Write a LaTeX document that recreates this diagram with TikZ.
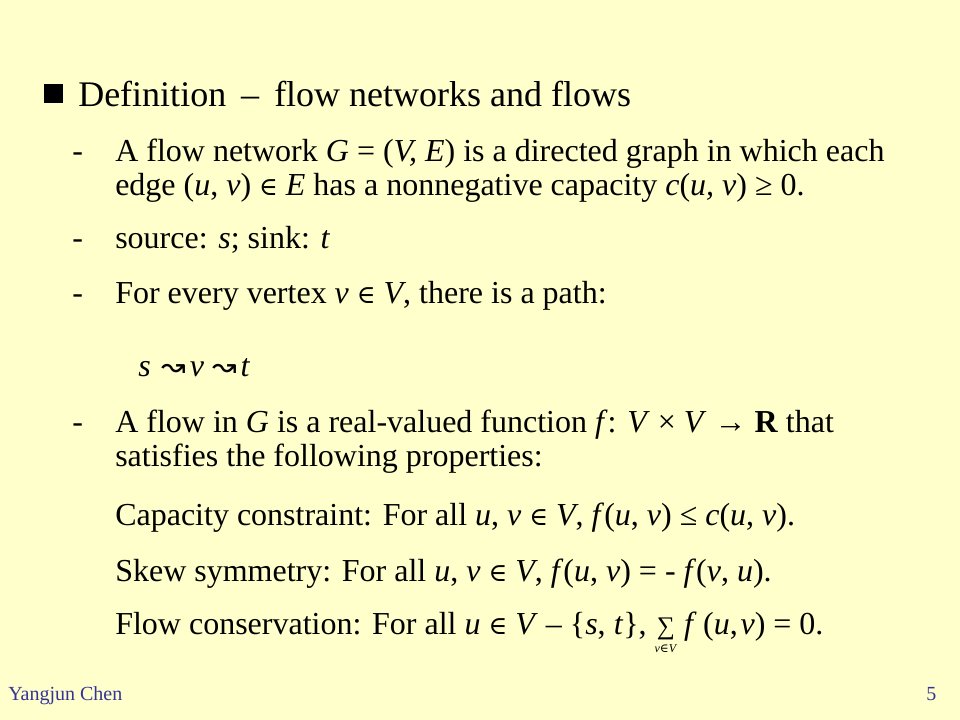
\documentclass[tikz,border=0pt]{standalone}
\usepackage{graphicx}
\usepackage{fontspec}
\setmainfont{Liberation Serif}
\newfontfamily\symf{DejaVu Serif}
\newfontfamily\symsans{DejaVu Sans}
\definecolor{bg}{HTML}{FFFFCC}
\definecolor{foot}{HTML}{333399}
\newcommand{\mi}[1]{\textit{#1}}
\newcommand{\inn}{{\symf\fontsize{19}{20}\selectfont ∈}}
\newcommand{\sq}{{\symsans\fontsize{22}{24}\selectfont ↝}}
\begin{document}
\begin{tikzpicture}[x=0.75pt,y=-0.75pt,
  body/.style={anchor=base west, inner sep=0pt, font=\fontsize{24}{28}\selectfont},
  ttl/.style={anchor=base west, inner sep=0pt, font=\fontsize{27}{32}\selectfont},
  dsh/.style={anchor=base west, inner sep=0pt, font=\fontsize{24}{28}\selectfont},
  foottxt/.style={anchor=base west, inner sep=0pt, text=foot, font=\fontsize{15}{16}\selectfont}]
\fill[bg] (0,0) rectangle (960,720);
\useasboundingbox (0,0) rectangle (960,720);
\node (bul) [fill=black, inner sep=0pt, minimum width=14pt, minimum height=14pt] at (53.5,93.5) {};
\node (title) [ttl] at (78,107) {Definition \,–\, flow networks and flows};
\node (d1) [dsh] at (72,162) {-};
\node (l1) [body] at (115,162) {A flow network \mi{G} = (\mi{V, E}) is a directed graph in which each};
\node (l2) [body] at (115,196) {edge (\mi{u}, \mi{v}) \inn{} \mi{E} has a nonnegative capacity \mi{c}(\mi{u, v}) ≥ 0.};
\node (d3) [dsh] at (72,249) {-};
\node (l3) [body] at (115,249) {source: \mi{s}; sink: \mi{t}};
\node (d4) [dsh] at (72,304) {-};
\node (l4) [body] at (115,304) {For every vertex \mi{v} \inn{} \mi{V}, there is a path:};
\node (l5) [body] at (138,376) {\mi{s}\hspace{8pt}\sq\hspace{3pt}\mi{v}\hspace{6pt}\sq\hspace{3pt}\mi{t}};
\node (d6) [dsh] at (72,432) {-};
\node (l6) [body] at (115,432) {A flow in \mi{G} is a real-valued function \mi{f}: \mi{V} × \mi{V} → \textbf{R} that};
\node (l7) [body] at (115,466) {satisfies the following properties:};
\node (l8) [body] at (115,525) {Capacity constraint: For all \mi{u}, \mi{v} \inn{} \mi{V}, \mi{f}(\mi{u}, \mi{v}) ≤ \mi{c}(\mi{u}, \mi{v}).};
\node (l9) [body] at (115,581) {Skew symmetry: For all \mi{u}, \mi{v} \inn{} \mi{V}, \mi{f}(\mi{u}, \mi{v}) = - \mi{f}(\mi{v}, \mi{u}).};
\node (l10) [body] at (115,634) {Flow conservation: For all \mi{u} \inn{} \mi{V} – \{\mi{s}, \mi{t}\},
  \begin{tabular}[t]{@{}c@{}}{\fontsize{19}{19}\selectfont ∑}\\[-14pt]{\fontsize{9}{9}\selectfont\mi{v}{\symf ∈}\mi{V}}\end{tabular}\hspace{5pt}\mi{f}\hspace{5pt}(\mi{u},\hspace{2pt}\mi{v})\hspace{6pt}= 0.};
\node (ft1) [foottxt] at (8,700) {Yangjun Chen};
\node (ft2) [foottxt] at (926,700) {5};
\end{tikzpicture}
\end{document}
